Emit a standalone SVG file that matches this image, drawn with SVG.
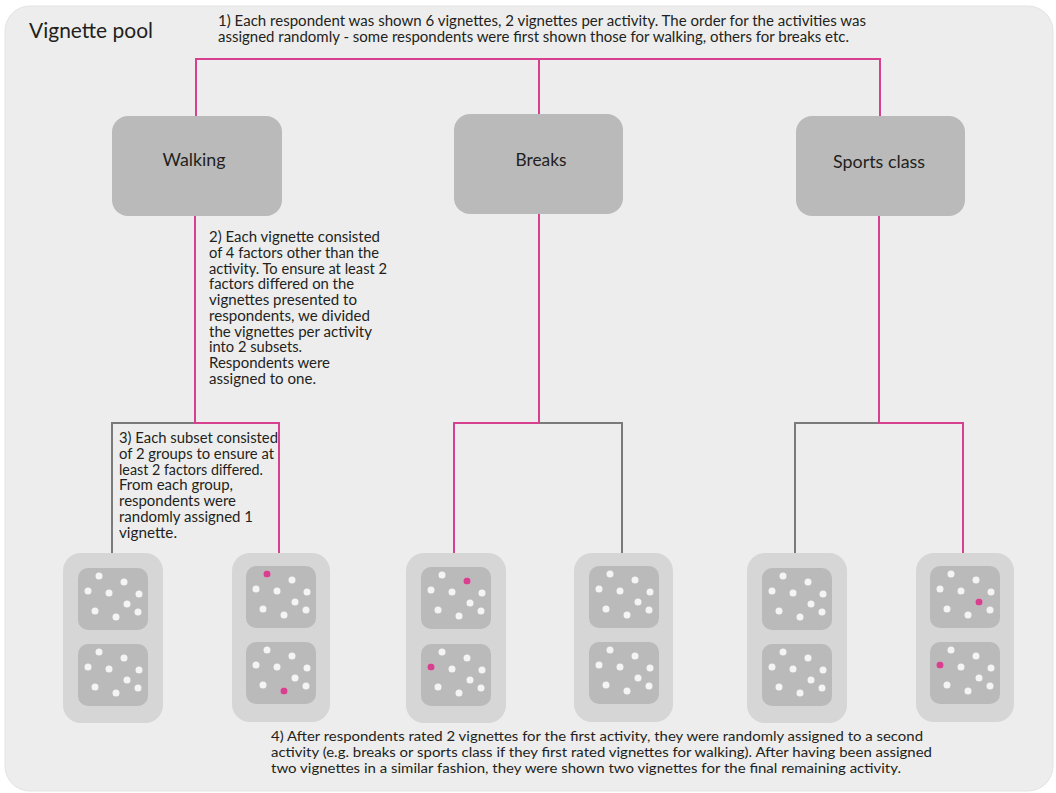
<svg xmlns="http://www.w3.org/2000/svg" xmlns:xlink="http://www.w3.org/1999/xlink" width="1056" height="793" viewBox="0 0 1056 793">
  <style>
    text { font-family: Lato, "Open Sans", "Liberation Sans", sans-serif; fill: #231f20; }
    .note { font-size: 14.5px; }
    .note4 { font-size: 13.5px; }
    .label { font-size: 18px; text-anchor: middle; }
    .title { font-size: 20.5px; }
    .pink { fill: none; stroke: #d6408f; stroke-width: 2; }
    .gray { fill: none; stroke: #7a7a7a; stroke-width: 2; }
    .node { fill: #bababa; }
    .card { fill: #d6d6d6; }
    .sq { fill: #bababa; }
    .dot { fill: #f4f4f4; }
    .pdot { fill: #d6408f; }
  </style>
  <defs>
    <g id="square">
      <rect class="sq" x="0" y="0" width="70" height="62" rx="10"/>
      <circle class="dot" cx="21" cy="8" r="3.5"/>
      <circle class="dot" cx="46" cy="14" r="3.5"/>
      <circle class="dot" cx="10" cy="23" r="3.5"/>
      <circle class="dot" cx="31" cy="25" r="3.5"/>
      <circle class="dot" cx="61" cy="26" r="3.5"/>
      <circle class="dot" cx="49" cy="36" r="3.5"/>
      <circle class="dot" cx="17" cy="43" r="3.5"/>
      <circle class="dot" cx="38" cy="49" r="3.5"/>
      <circle class="dot" cx="60" cy="44" r="3.5"/>
    </g>
  </defs>

  <rect x="0" y="0" width="1056" height="793" fill="#ffffff"/>
  <rect id="frame" x="5" y="6" width="1048" height="785" rx="25" fill="#ededed" stroke="#e3e3e3" stroke-width="1"/>

  <g id="title">
    <text class="title" x="29" y="38" textLength="124" lengthAdjust="spacingAndGlyphs">Vignette pool</text>
  </g>

  <g id="note1">
    <text class="note" x="218" y="26" textLength="648" lengthAdjust="spacingAndGlyphs">1) Each respondent was shown 6 vignettes, 2 vignettes per activity. The order for the activities was</text>
    <text class="note" x="218" y="42" textLength="631" lengthAdjust="spacingAndGlyphs">assigned randomly - some respondents were first shown those for walking, others for breaks etc.</text>
  </g>

  <g id="connectors">
    <path class="pink" d="M196 116 V59 H880 V116"/>
    <path class="pink" d="M539 59 V114"/>
    <path class="gray" d="M195 423 H112 V553"/>
    <path class="pink" d="M195 216 V423 H279 V553"/>
    <path class="gray" d="M539 423 H622 V553"/>
    <path class="pink" d="M539 214 V423 H454 V553"/>
    <path class="gray" d="M879 423 H795 V553"/>
    <path class="pink" d="M879 216 V423 H963 V553"/>
  </g>

  <g id="node-walking">
    <rect class="node" x="112" y="116" width="170" height="100" rx="16"/>
    <text class="label" x="194" y="166" textLength="63" lengthAdjust="spacingAndGlyphs">Walking</text>
  </g>
  <g id="node-breaks">
    <rect class="node" x="454" y="114" width="169" height="100" rx="16"/>
    <text class="label" x="541" y="166" textLength="51" lengthAdjust="spacingAndGlyphs">Breaks</text>
  </g>
  <g id="node-sports">
    <rect class="node" x="796" y="116" width="169" height="100" rx="16"/>
    <text class="label" x="879" y="168" textLength="92" lengthAdjust="spacingAndGlyphs">Sports class</text>
  </g>

  <g id="note2" class="note">
    <text x="209" y="242" textLength="171" lengthAdjust="spacingAndGlyphs">2) Each vignette consisted</text>
    <text x="209" y="257.8" textLength="170" lengthAdjust="spacingAndGlyphs">of 4 factors other than the</text>
    <text x="209" y="273.5" textLength="178" lengthAdjust="spacingAndGlyphs">activity. To ensure at least 2</text>
    <text x="209" y="289.3" textLength="145" lengthAdjust="spacingAndGlyphs">factors differed on the</text>
    <text x="209" y="305" textLength="148" lengthAdjust="spacingAndGlyphs">vignettes presented to</text>
    <text x="209" y="320.8" textLength="161" lengthAdjust="spacingAndGlyphs">respondents, we divided</text>
    <text x="209" y="336.5" textLength="163" lengthAdjust="spacingAndGlyphs">the vignettes per activity</text>
    <text x="209" y="352.3" textLength="93" lengthAdjust="spacingAndGlyphs">into 2 subsets.</text>
    <text x="209" y="368" textLength="121" lengthAdjust="spacingAndGlyphs">Respondents were</text>
    <text x="209" y="383.8" textLength="107" lengthAdjust="spacingAndGlyphs">assigned to one.</text>
  </g>

  <g id="note3" class="note">
    <text x="119" y="443" textLength="159" lengthAdjust="spacingAndGlyphs">3) Each subset consisted</text>
    <text x="119" y="458.8" textLength="155" lengthAdjust="spacingAndGlyphs">of 2 groups to ensure at</text>
    <text x="119" y="474.6" textLength="144" lengthAdjust="spacingAndGlyphs">least 2 factors differed.</text>
    <text x="119" y="490.4" textLength="114" lengthAdjust="spacingAndGlyphs">From each group,</text>
    <text x="119" y="506.2" textLength="117" lengthAdjust="spacingAndGlyphs">respondents were</text>
    <text x="119" y="522" textLength="134" lengthAdjust="spacingAndGlyphs">randomly assigned 1</text>
    <text x="119" y="537.8" textLength="58" lengthAdjust="spacingAndGlyphs">vignette.</text>
  </g>

  <g id="card1">
    <rect class="card" x="63" y="553" width="100" height="170" rx="18"/>
    <use xlink:href="#square" x="78" y="568"/>
    <use xlink:href="#square" x="78" y="644"/>
  </g>
  <g id="card2">
    <rect class="card" x="232" y="553" width="98" height="169" rx="18"/>
    <use xlink:href="#square" x="246" y="566"/>
    <use xlink:href="#square" x="246" y="642"/>
    <circle class="pdot" cx="267" cy="574" r="3.6"/>
    <circle class="pdot" cx="284" cy="691" r="3.6"/>
  </g>
  <g id="card3">
    <rect class="card" x="406" y="553" width="100" height="170" rx="18"/>
    <use xlink:href="#square" x="421" y="567"/>
    <use xlink:href="#square" x="421" y="644"/>
    <circle class="pdot" cx="467" cy="581" r="3.6"/>
    <circle class="pdot" cx="431" cy="667" r="3.6"/>
  </g>
  <g id="card4">
    <rect class="card" x="574" y="553" width="99" height="169" rx="18"/>
    <use xlink:href="#square" x="589" y="566"/>
    <use xlink:href="#square" x="589" y="642"/>
  </g>
  <g id="card5">
    <rect class="card" x="747" y="553" width="100" height="170" rx="18"/>
    <use xlink:href="#square" x="762" y="568"/>
    <use xlink:href="#square" x="762" y="644"/>
  </g>
  <g id="card6">
    <rect class="card" x="916" y="553" width="98" height="169" rx="18"/>
    <use xlink:href="#square" x="930" y="566"/>
    <use xlink:href="#square" x="930" y="642"/>
    <circle class="pdot" cx="979" cy="602" r="3.6"/>
    <circle class="pdot" cx="940" cy="665" r="3.6"/>
  </g>

  <g id="note4" class="note4">
    <text x="271" y="741" textLength="652" lengthAdjust="spacingAndGlyphs">4) After respondents rated 2 vignettes for the first activity, they were randomly assigned to a second</text>
    <text x="271" y="757" textLength="661" lengthAdjust="spacingAndGlyphs">activity (e.g. breaks or sports class if they first rated vignettes for walking). After having been assigned</text>
    <text x="271" y="773" textLength="630" lengthAdjust="spacingAndGlyphs">two vignettes in a similar fashion, they were shown two vignettes for the final remaining activity.</text>
  </g>
</svg>
